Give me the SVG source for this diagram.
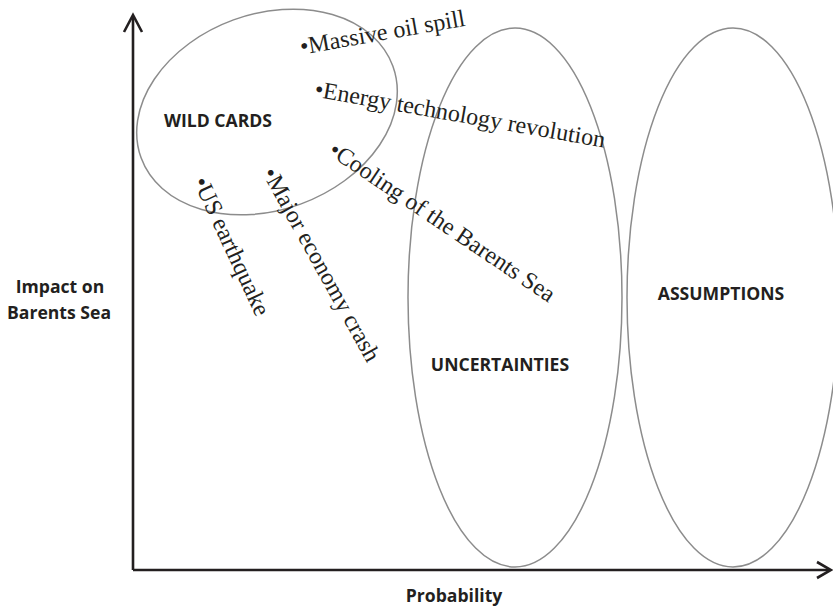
<svg xmlns="http://www.w3.org/2000/svg" width="833" height="608" viewBox="0 0 833 608">
<style>
.region{fill:none;stroke:#8c8c8c;stroke-width:1.5}
.axis{fill:none;stroke:#231f20;stroke-width:2.6;stroke-linecap:butt;stroke-linejoin:miter}
.head{fill:none;stroke:#231f20;stroke-width:2.6;stroke-linejoin:miter}
.lbl{font-family:"Open Sans","Liberation Sans",sans-serif;font-weight:bold;font-size:17.6px;fill:#231f20;text-anchor:middle}
.item{font-family:"Liberation Serif","Times New Roman",serif;font-size:24px;fill:#231f20}
</style>
<rect width="833" height="608" fill="#ffffff"/>
<g id="axes">
<line class="axis" x1="133" y1="570" x2="133" y2="16"/>
<polyline class="head" points="124,32 133,15 142,32"/>
<line class="axis" x1="133" y1="570" x2="830" y2="570"/>
<polyline class="head" points="817,562 831,570 817,578"/>
</g>
<g id="wild-cards">
<ellipse class="region" cx="267" cy="112" rx="134" ry="98" transform="rotate(-20 267 112)"/>
<text class="lbl" x="218" y="127">WILD CARDS</text>
</g>
<g id="uncertainties">
<ellipse class="region" cx="515" cy="297.5" rx="107" ry="269.5"/>
<text class="lbl" x="500" y="371">UNCERTAINTIES</text>
</g>
<g id="assumptions">
<ellipse class="region" cx="733" cy="297.5" rx="106" ry="269.5"/>
<text class="lbl" x="721" y="300">ASSUMPTIONS</text>
</g>
<g id="y-label">
<text class="lbl" x="60" y="293">Impact on</text>
<text class="lbl" x="59" y="319">Barents Sea</text>
</g>
<g id="x-label">
<text class="lbl" x="454" y="602">Probability</text>
</g>
<g id="item-oil-spill">
<text class="item" x="301.5" y="54.6" transform="rotate(-10 301.5 54.6)">•Massive oil spill</text>
</g>
<g id="item-energy">
<text class="item" x="313.7" y="96.5" transform="rotate(10 313.7 96.5)">•Energy technology revolution</text>
</g>
<g id="item-cooling">
<text class="item" x="327.2" y="153.7" transform="rotate(34 327.2 153.7)">•Cooling of the Barents Sea</text>
</g>
<g id="item-us-earthquake">
<text class="item" x="192.8" y="181.5" transform="rotate(65 192.8 181.5)">•US earthquake</text>
</g>
<g id="item-economy-crash">
<text class="item" x="261.8" y="173.1" transform="rotate(61 261.8 173.1)">•Major economy crash</text>
</g>
</svg>
